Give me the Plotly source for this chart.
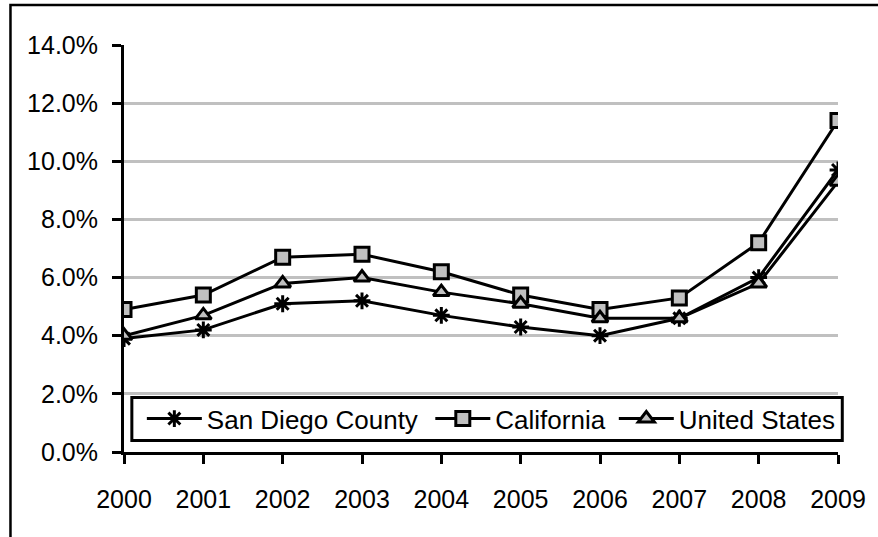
import plotly.graph_objects as go

# Annual unemployment rate, 2000-2009
years = [2000, 2001, 2002, 2003, 2004, 2005, 2006, 2007, 2008, 2009]
san_diego = [0.039, 0.042, 0.051, 0.052, 0.047, 0.043, 0.040, 0.046, 0.060, 0.097]
california = [0.049, 0.054, 0.067, 0.068, 0.062, 0.054, 0.049, 0.053, 0.072, 0.114]
united_states = [0.040, 0.047, 0.058, 0.060, 0.055, 0.051, 0.046, 0.046, 0.058, 0.093]
y_ticks = [0, 0.02, 0.04, 0.06, 0.08, 0.10, 0.12, 0.14]

FONT = "Arial, Liberation Sans, sans-serif"
GREY = "#C0C0C0"

series = [
    ("San Diego County", san_diego, "asterisk-open", "black", "legend"),
    ("California", california, "square", GREY, "legend2"),
    ("United States", united_states, "triangle-up", GREY, "legend3"),
]

fig = go.Figure()
for name, values, symbol, fill, legend_id in series:
    fig.add_trace(go.Scatter(
        x=years, y=values, name=name, mode="lines+markers",
        line=dict(color="black", width=3),
        marker=dict(symbol=symbol, size=14, color=fill,
                    line=dict(color="black", width=3)),
        legend=legend_id,
    ))

# one borderless legend per series, laid out in a row inside a framed box
legend_style = dict(
    orientation="h", yanchor="middle", xanchor="left", y=0.082,
    bgcolor="rgba(0,0,0,0)", borderwidth=0, itemwidth=55,
    font=dict(family=FONT, size=26, color="black"),
)
legend_x = {"legend": 0.025, "legend2": 0.429, "legend3": 0.686}

fig.update_layout(
    width=878, height=537,
    margin=dict(l=124, r=34, t=44.5, b=84.5),
    paper_bgcolor="white", plot_bgcolor="white",
    font=dict(family=FONT, size=25, color="black"),
    xaxis=dict(
        range=[2000, 2009], tickmode="array", tickvals=years,
        ticktext=[str(y) for y in years],
        showgrid=False, zeroline=False,
        showline=True, linecolor="black", linewidth=3,
        ticks="outside", ticklen=9, tickwidth=3, tickcolor="black",
        ticklabelstandoff=14,
    ),
    yaxis=dict(
        range=[0, 0.14], tickvals=y_ticks, tickformat=".1%",
        showgrid=True, gridcolor=GREY, gridwidth=2.5, zeroline=False,
        showline=True, linecolor="black", linewidth=3,
        ticks="outside", ticklen=9, tickwidth=3, tickcolor="black",
        ticklabelstandoff=9,
    ),
    showlegend=True,
    legend=dict(x=legend_x["legend"], **legend_style),
    legend2=dict(x=legend_x["legend2"], **legend_style),
    legend3=dict(x=legend_x["legend3"], **legend_style),
    shapes=[
        # outer chart frame
        dict(type="rect", xref="paper", yref="paper",
             x0=-0.159, x1=1.2, y0=-0.3, y1=1.098,
             line=dict(color="black", width=2.5), layer="below"),
        # legend frame
        dict(type="rect", xref="paper", yref="paper",
             x0=0.011, x1=1.006, y0=0.028, y1=0.1336,
             line=dict(color="black", width=3), fillcolor="white",
             layer="above"),
    ],
)

fig.write_html("out.html")
